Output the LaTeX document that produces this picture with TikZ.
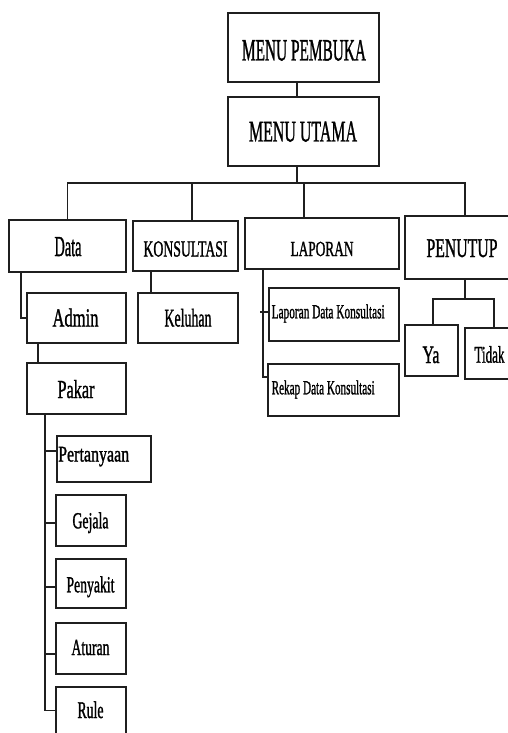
\documentclass[tikz,border=0pt]{standalone}
\usepackage{fontspec}
\usepackage{graphicx}
\setmainfont[FakeBold=1.5]{Liberation Serif}
% condensed label: size, width, text
\newcommand\sqz[3]{{\fontsize{#1pt}{#1pt}\selectfont\resizebox{#2pt}{\height}{#3}}}
\begin{document}
\begin{tikzpicture}[x=1pt,y=-1pt,
  box/.style={draw=black!88, line width=1.5pt, inner sep=0pt, fill=none},
  txt/.style={inner sep=0pt, anchor=base, text=black},
  txtl/.style={inner sep=0pt, anchor=base west, text=black},
  link/.style={draw=black!88, line width=1.5pt}]
\clip (0,0) rectangle (508,733);
\fill[white] (0,0) rectangle (508,733);

% boxes
\node[box, minimum width=151pt, minimum height=69pt] (pembuka) at (303.5,47.5) {};
\node[box, minimum width=151pt, minimum height=69pt] (utama) at (303.5,131.5) {};
\node[box, minimum width=117pt, minimum height=52pt] (data) at (67.5,246) {};
\node[box, minimum width=105pt, minimum height=50pt] (konsul) at (185.5,246) {};
\node[box, minimum width=154pt, minimum height=51pt] (laporan) at (322,243.5) {};
\node[box, minimum width=115pt, minimum height=63pt] (penutup) at (462.5,247.5) {};
\node[box, minimum width=99pt, minimum height=50pt] (admin) at (76.5,318) {};
\node[box, minimum width=100pt, minimum height=50pt] (keluhan) at (188,318) {};
\node[box, minimum width=99pt, minimum height=51pt] (pakar) at (76.5,388.5) {};
\node[box, minimum width=130pt, minimum height=53pt] (lapdata) at (334,314.5) {};
\node[box, minimum width=131pt, minimum height=52pt] (rekap) at (333.5,390) {};
\node[box, minimum width=53pt, minimum height=51pt] (ya) at (431.5,350.5) {};
\node[box, minimum width=60pt, minimum height=51pt] (tidak) at (495,353.5) {};
\node[box, minimum width=94pt, minimum height=46pt] (pertanyaan) at (104,459) {};
\node[box, minimum width=70pt, minimum height=51pt] (gejala) at (91,520.5) {};
\node[box, minimum width=70pt, minimum height=49pt] (penyakit) at (91,583.5) {};
\node[box, minimum width=70pt, minimum height=51pt] (aturan) at (91,648.5) {};
\node[box, minimum width=70pt, minimum height=58pt] (rule) at (91,716) {};

% labels
\node[txt] (tpembuka) at (304,60.5) {\sqz{31}{124}{MENU PEMBUKA}};
\node[txt] (tutama) at (303,141.5) {\sqz{30}{108}{MENU UTAMA}};
\node[txt] (tdata) at (68,256) {\sqz{29}{27}{Data}};
\node[txt] (tkonsul) at (185.5,256.5) {\sqz{23}{84}{KONSULTASI}};
\node[txt] (tlaporan) at (322,256) {\sqz{21.5}{63}{LAPORAN}};
\node[txt] (tpenutup) at (462,257) {\sqz{27}{71}{PENUTUP}};
\node[txt] (tadmin) at (75.5,326.5) {\sqz{26}{46}{Admin}};
\node[txt] (tkeluhan) at (188,326.5) {\sqz{25.5}{47}{Keluhan}};
\node[txt] (tpakar) at (76,398) {\sqz{26}{37}{Pakar}};
\node[txtl] (tpertanyaan) at (58,461.5) {\sqz{22.5}{71}{Pertanyaan}};
\node[txt] (tgejala) at (90.5,528.3) {\sqz{23}{36}{Gejala}};
\node[txt] (tpenyakit) at (90.5,592.3) {\sqz{23}{48}{Penyakit}};
\node[txt] (taturan) at (90.5,655) {\sqz{23}{38}{Aturan}};
\node[txt] (trule) at (90.5,718) {\sqz{24}{26}{Rule}};
\node[txtl] (tlapdata) at (271.5,318.3) {\sqz{20}{113}{Laporan Data Konsultasi}};
\node[txtl] (trekap) at (271.5,394.3) {\sqz{20}{103}{Rekap Data Konsultasi}};
\node[txt] (tya) at (431,363) {\sqz{25}{17}{Ya}};
\node[txt] (ttidak) at (489.5,362.7) {\sqz{24}{30}{Tidak}};

% top chain and main bus
\coordinate (bus) at (297,183);
\draw[link] ([xshift=-6.5pt]pembuka.south) -- ([xshift=-6.5pt]utama.north);
\draw[link] ([xshift=-6.5pt]utama.south) -- (bus);
\draw[link] (data.north) |- (bus) -| ([xshift=2.5pt]penutup.north);
\draw[link] ([xshift=6.5pt]konsul.north) -- ([xshift=6.5pt]konsul.north |- bus);
\draw[link] ([xshift=-18pt]laporan.north) -- ([xshift=-18pt]laporan.north |- bus);

% Data branch
\draw[link] ([xshift=-46.5pt]data.south) |- (admin.west);
\draw[link] ([xshift=-38.5pt]admin.south) -- ([xshift=-38.5pt]admin.south |- pakar.north);
\coordinate (pk) at ([xshift=-31.5pt]pakar.south);
\draw[link] (pk) |- ([yshift=5.5pt]rule.west);
\draw[link] ([yshift=8pt]pertanyaan.west) -- ++(-12,0);
\draw[link] ([yshift=-2.5pt]gejala.west) -- ++(-11,0);
\draw[link] ([yshift=-3.5pt]penyakit.west) -- ++(-11,0);
\draw[link] ([yshift=-5.5pt]aturan.west) -- ++(-11,0);

% KONSULTASI branch
\draw[link] ([xshift=-34.5pt]konsul.south) -- ([xshift=-34.5pt]konsul.south |- keluhan.north);

% LAPORAN branch
\draw[link] ([xshift=-59pt]laporan.south) |- ([yshift=13pt]rekap.west);
\draw[link] ([yshift=2.5pt]lapdata.west) -- ++(-8,0);

% PENUTUP branch
\coordinate (pj) at (465,299);
\draw[link] ([xshift=2.5pt]penutup.south) -- (pj);
\draw[link] ([xshift=1.5pt]ya.north) |- (pj) -| ([xshift=-1pt]tidak.north);
\end{tikzpicture}
\end{document}
